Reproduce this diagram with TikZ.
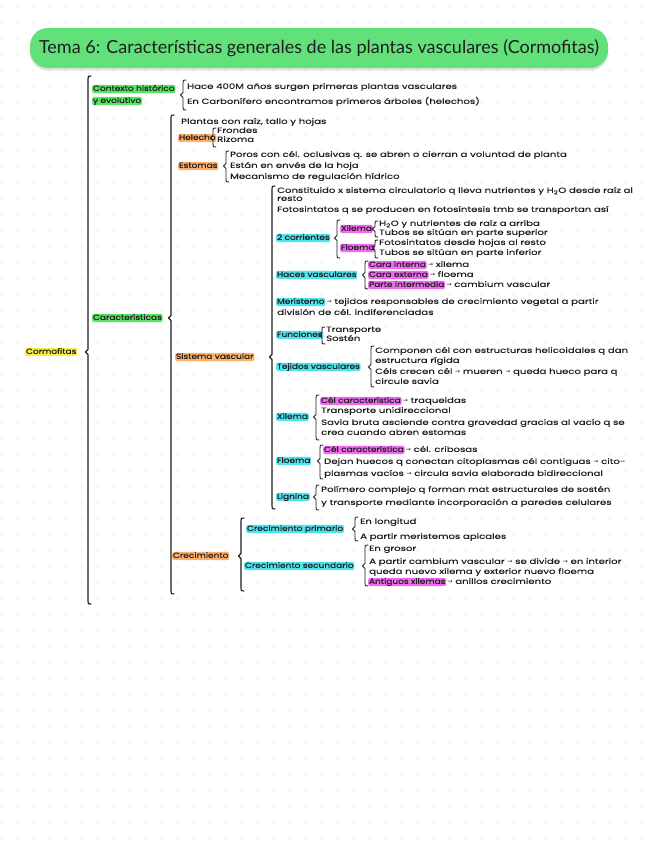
\documentclass[tikz,border=0pt]{standalone}
\usepackage{fontspec}
\usetikzlibrary{shadows}
\newfontfamily\handfont[FakeStretch=1.35,FakeBold=0.3]{Poppins}
\newfontfamily\labfont[FakeStretch=1.2,FakeBold=0.3]{Poppins}
\newfontfamily\titlefont{Lato}
\newfontfamily\arrowfont{DejaVu Sans}
\newcommand\toar{{\arrowfont\fontsize{6}{6}\selectfont →}}
\definecolor{hlgreen}{HTML}{55E463}
\definecolor{hlyellow}{HTML}{F8F045}
\definecolor{hlorange}{HTML}{FDB069}
\definecolor{hlcyan}{HTML}{4FE3EE}
\definecolor{hlmag}{HTML}{F06AF0}
\definecolor{titlegreen}{HTML}{62E07A}
\definecolor{ink}{HTML}{1E1E1E}
\definecolor{dotgray}{HTML}{CFCFCF}
\newcommand\hbr[5][0.9pt]{%
  \draw[brace, line width=#1] ({#2+3},#3) .. controls (#2,#3) .. (#2,{#3+3}) -- (#2,{#5-2.5}) -- ({#2-2.5},#5) -- (#2,{#5+2.5}) -- (#2,{#4-3}) .. controls (#2,#4) .. ({#2+3},#4);}
\tikzset{
  brace/.style={draw=ink, line cap=round, line join=round},
  txt/.style={anchor=west, inner xsep=1pt, inner ysep=0.8pt, text height=5.2pt, text depth=1.4pt, font=\handfont\fontsize{7.5}{8}\selectfont, text=ink},
  hl/.style={txt, inner xsep=0.8pt, font=\labfont\fontsize{7.5}{8}\selectfont, fill=#1, rounded corners=2pt},
  titlebox/.style={fill=titlegreen, rounded corners=18pt, minimum width=578pt, minimum height=40pt, inner sep=0pt,
    font=\titlefont\fontsize{18}{20}\selectfont, text=ink,
    drop shadow={shadow xshift=0pt, shadow yshift=-2.5pt, opacity=0.25}}
}
\begin{document}
\begin{tikzpicture}[x=1pt,y=-1pt]
\fill[white] (0,0) rectangle (656,848);
\useasboundingbox (0,0) rectangle (656,848);
\foreach \i in {0,...,40} \foreach \j in {0,...,52} \fill[dotgray] (1+16*\i,7+16*\j) circle (0.7pt);

\node[titlebox] (title) at (319,48) {Tema 6: Características generales de las plantas vasculares (Cormofitas)};

% level 0
\node[hl=hlyellow] (corm) at (25,352) {Cormofitas};
\hbr[1.2pt]{88}{76}{604}{352}

% contexto
\node[hl=hlgreen] (ctx1) at (92,89) {Contexto histórico};
\node[hl=hlgreen] (ctx2) at (92,101) {y evolutivo};
\hbr{183}{80}{110}{95}
\node[txt] (ctxa) at (186,87) {Hace 400M años surgen primeras plantas vasculares};
\node[txt] (ctxb) at (186,102) {En Carbonífero encontramos primeros árboles (helechos)};

% caracteristicas
\node[hl=hlgreen] (car) at (92,318) {Características};
\hbr[1.1pt]{171}{115}{594}{318}
\node[txt] (pl) at (180,122) {Plantas con raíz, tallo y hojas};
\node[hl=hlorange] (hel) at (178,138) {Helecho};
\hbr{213}{128}{147}{138}
\node[txt] (hela) at (216,131) {Frondes};
\node[txt] (helb) at (216,140) {Rizoma};
\node[hl=hlorange] (est) at (178,166) {Estomas};
\hbr{226}{151}{182}{166}
\node[txt] (esta) at (229,155) {Poros con cél. oclusivas q. se abren o cierran a voluntad de planta};
\node[txt] (estb) at (229,166) {Están en envés de la hoja};
\node[txt] (estc) at (229,177) {Mecanismo de regulación hídrico};

% sistema vascular
\node[hl=hlorange] (sv) at (175,357) {Sistema vascular};
\hbr[1.1pt]{272}{186}{509}{357}
\node[txt] (sva) at (276,191) {Constituido x sistema circulatorio q lleva nutrientes y H\textsubscript{2}O desde raíz al};
\node[txt] (svb) at (276,199) {resto};
\node[txt] (svc) at (276,210) {Fotosintatos q se producen en fotosíntesis tmb se transportan así};

\node[hl=hlcyan] (cor) at (276,238) {2 corrientes};
\hbr{337}{220}{258}{238}
\node[hl=hlmag] (cx) at (340,229) {Xilema};
\hbr{375}{221}{237}{229}
\node[txt] (cxa) at (378,224) {H\textsubscript{2}O y nutrientes de raíz a arriba};
\node[txt] (cxb) at (378,233) {Tubos se sitúan en parte superior};
\node[hl=hlmag] (cf) at (340,248) {Floema};
\hbr{375}{240}{258}{248}
\node[txt] (cfa) at (378,243) {Fotosintatos desde hojas al resto};
\node[txt] (cfb) at (378,253) {Tubos se sitúan en parte inferior};

\node[hl=hlcyan] (hv) at (276,275) {Haces vasculares};
\hbr{365}{261}{289}{275}
\node[hl=hlmag] (hva) at (368,265) {Cara interna};
\node[txt] (hva2) at (hva.east) {\toar{} xilema};
\node[hl=hlmag] (hvb) at (368,275) {Cara externa};
\node[txt] (hvb2) at (hvb.east) {\toar{} floema};
\node[hl=hlmag] (hvc) at (368,285) {Parte intermedia};
\node[txt] (hvc2) at (hvc.east) {\toar{} cambium vascular};

\node[hl=hlcyan] (mer) at (276,302) {Meristemo};
\node[txt] (mer2) at (mer.east) {\toar{} tejidos responsables de crecimiento vegetal a partir};
\node[txt] (mer3) at (276,313) {división de cél. indiferenciadas};

\node[hl=hlcyan] (fun) at (276,335) {Funciones};
\hbr{322}{327}{344}{335}
\node[txt] (funa) at (325,330) {Transporte};
\node[txt] (funb) at (325,339) {Sostén};

\node[hl=hlcyan] (tv) at (276,367) {Tejidos vasculares};
\hbr{371}{346}{387}{367}
\node[txt] (tva) at (374,351) {Componen cél con estructuras helicoidales q dan};
\node[txt] (tvb) at (374,361) {estructura rígida};
\node[txt] (tvc) at (374,372) {Céls crecen cél \toar{} mueren \toar{} queda hueco para q};
\node[txt] (tvd) at (374,382) {circule savia};

\node[hl=hlcyan] (xil) at (276,417) {Xilema};
\hbr{316}{395}{440}{417}
\node[hl=hlmag] (xila) at (320,401) {Cél característica};
\node[txt] (xila2) at (xila.east) {\toar{} traqueidas};
\node[txt] (xilb) at (320,411) {Transporte unidireccional};
\node[txt] (xilc) at (320,423) {Savia bruta asciende contra gravedad gracias al vacío q se};
\node[txt] (xild) at (320,433) {crea cuando abren estomas};

\node[hl=hlcyan] (flo) at (276,461) {Floema};
\hbr{320}{445}{479}{461}
\node[hl=hlmag] (floa) at (323,450) {Cél característica};
\node[txt] (floa2) at (floa.east) {\toar{} cél. cribosas};
\node[txt] (flob) at (323,462) {Dejan huecos q conectan citoplasmas cél contiguas \toar{} cito-};
\node[txt] (floc) at (323,474) {plasmas vacíos \toar{} circula savia elaborada bidireccional};

\node[hl=hlcyan] (lig) at (276,497) {Lignina};
\hbr{316}{485}{510}{497}
\node[txt] (liga) at (320,490) {Polímero complejo q forman mat estructurales de sostén};
\node[txt] (ligb) at (320,503) {y transporte mediante incorporación a paredes celulares};

% crecimiento
\node[hl=hlorange] (cre) at (172,556) {Crecimiento};
\hbr[1.1pt]{241}{518}{591}{556}
\node[hl=hlcyan] (crp) at (246,529) {Crecimiento primario};
\hbr{355}{517}{541}{529}
\node[txt] (crpa) at (359,522) {En longitud};
\node[txt] (crpb) at (359,537) {A partir meristemos apicales};
\node[hl=hlcyan] (crs) at (244,566) {Crecimiento secundario};
\hbr{365}{545}{586}{566}
\node[txt] (crsa) at (368,549) {En grosor};
\node[txt] (crsb) at (368,562) {A partir cambium vascular \toar{} se divide \toar{} en interior};
\node[txt] (crsc) at (368,572) {queda nuevo xilema y exterior nuevo floema};
\node[hl=hlmag] (crsd) at (368,582) {Antiguos xilemas};
\node[txt] (crsd2) at (crsd.east) {\toar{} anillos crecimiento};
\end{tikzpicture}
\end{document}
